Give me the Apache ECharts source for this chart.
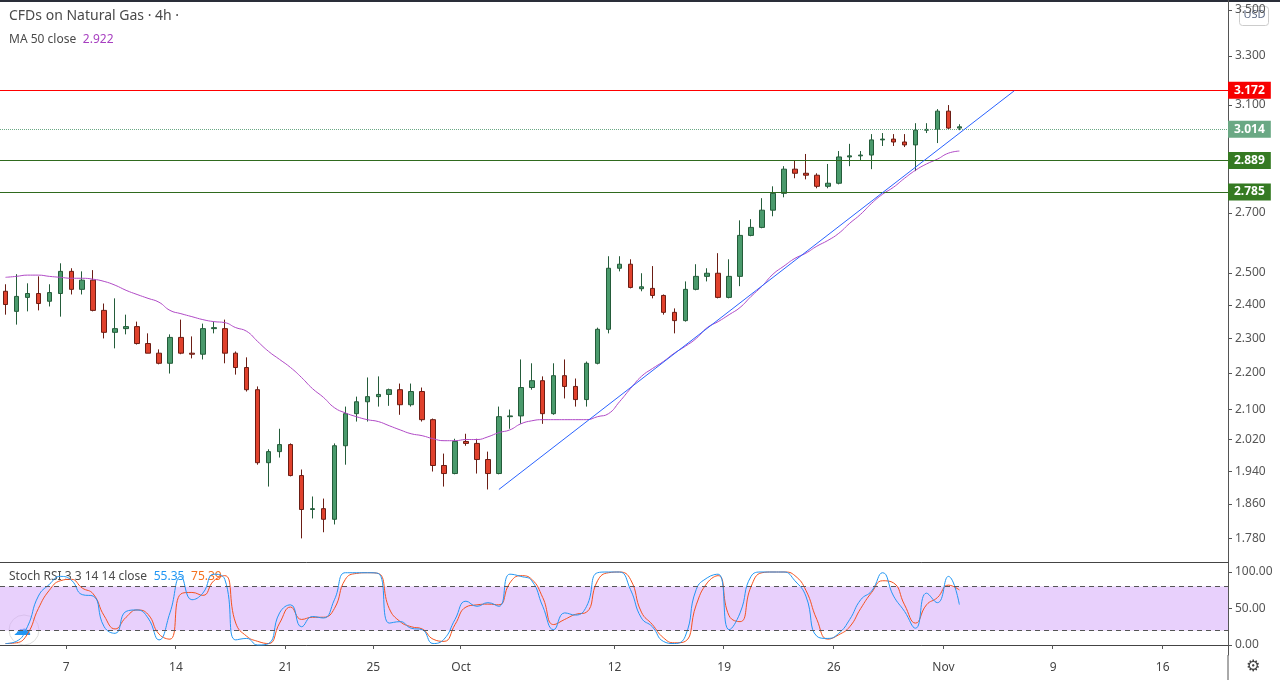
<!DOCTYPE html>
<html>
<head>
<meta charset="utf-8">
<script src="https://cdn.jsdelivr.net/npm/echarts@6/dist/echarts.min.js"></script>
<style>
  html, body { margin: 0; padding: 0; background: #fff; }
  #chart { width: 1280px; height: 680px; }
</style>
</head>
<body>
<div id="chart"></div>
<script>
// 4h natural gas: two slots per trading day
// [open, close, low, high]
var candles = [
  [2.442,2.401,2.370,2.464],[2.380,2.426,2.340,2.496],[2.423,2.435,2.380,2.467],[2.435,2.404,2.383,2.489],
  [2.411,2.438,2.395,2.464],[2.435,2.505,2.364,2.531],[2.505,2.448,2.432,2.515],[2.448,2.477,2.432,2.505],
  [2.477,2.383,2.380,2.509],[2.383,2.317,2.299,2.404],[2.317,2.328,2.270,2.420],[2.328,2.334,2.311,2.370],
  [2.334,2.284,2.281,2.349],[2.284,2.256,2.256,2.314],[2.256,2.227,2.224,2.267],[2.227,2.302,2.198,2.311],
  [2.302,2.256,2.253,2.355],[2.256,2.253,2.241,2.305],[2.253,2.328,2.238,2.343],[2.328,2.331,2.314,2.349],
  [2.328,2.256,2.227,2.355],[2.256,2.215,2.195,2.261],[2.215,2.153,2.148,2.244],[2.153,1.961,1.956,2.162],
  [1.961,1.989,1.902,1.995],[1.989,2.007,1.974,2.048],[2.007,1.929,1.927,2.010],[1.929,1.847,1.780,1.944],
  [1.847,1.849,1.826,1.878],[1.849,1.824,1.794,1.873],[1.824,2.004,1.812,2.010],[2.004,2.088,1.956,2.107],
  [2.088,2.120,2.067,2.134],[2.120,2.134,2.067,2.187],[2.134,2.140,2.107,2.190],[2.140,2.153,2.109,2.156],
  [2.153,2.112,2.085,2.170],[2.112,2.148,2.107,2.170],[2.148,2.072,2.067,2.159],[2.072,1.954,1.939,2.075],
  [1.954,1.934,1.902,1.984],[1.934,2.015,1.932,2.022],[2.015,2.010,2.004,2.035],[2.010,1.969,1.934,2.022],
  [1.969,1.934,1.895,1.989],[1.934,2.080,1.932,2.107],[2.080,2.082,2.048,2.099],[2.082,2.159,2.061,2.238],
  [2.159,2.178,2.153,2.227],[2.178,2.088,2.061,2.190],[2.088,2.192,2.085,2.227],[2.192,2.162,2.129,2.238],
  [2.162,2.126,2.107,2.184],[2.126,2.227,2.107,2.232],[2.227,2.326,2.224,2.331],[2.326,2.515,2.314,2.554],
  [2.515,2.528,2.505,2.554],[2.528,2.454,2.451,2.544],[2.450,2.456,2.442,2.499],[2.451,2.429,2.420,2.522],
  [2.429,2.377,2.370,2.432],[2.377,2.352,2.314,2.389],[2.352,2.448,2.349,2.473],[2.448,2.489,2.445,2.528],
  [2.489,2.499,2.473,2.515],[2.499,2.423,2.420,2.564],[2.423,2.489,2.420,2.544],[2.489,2.623,2.458,2.674],
  [2.623,2.650,2.620,2.678],[2.650,2.709,2.647,2.751],[2.709,2.768,2.688,2.793],[2.768,2.855,2.754,2.866],
  [2.855,2.840,2.822,2.888],[2.840,2.833,2.818,2.911],[2.833,2.793,2.786,2.840],[2.793,2.804,2.786,2.874],
  [2.804,2.900,2.800,2.922],[2.900,2.904,2.866,2.949],[2.904,2.907,2.885,2.922],[2.907,2.964,2.855,2.986],
  [2.964,2.967,2.941,2.990],[2.967,2.956,2.941,2.986],[2.956,2.945,2.937,2.986],[2.945,3.001,2.848,3.028],
  [3.001,3.004,2.990,3.028],[3.004,3.075,2.952,3.083],[3.075,3.009,3.005,3.099],[3.009,3.014,3.001,3.024]
];

var ma50 = [
  2.486,2.489,2.493,2.493,2.489,2.486,2.483,2.483,2.480,2.473,2.461,2.445,2.432,2.420,2.408,2.383,
  2.373,2.364,2.355,2.349,2.346,2.331,2.320,2.290,2.261,2.238,2.215,2.187,2.156,2.132,2.104,2.090,
  2.080,2.072,2.067,2.056,2.045,2.035,2.030,2.022,2.017,2.017,2.020,2.020,2.027,2.038,2.045,2.061,
  2.069,2.072,2.072,2.072,2.072,2.072,2.080,2.088,2.120,2.156,2.190,2.212,2.232,2.256,2.276,2.299,
  2.331,2.349,2.370,2.392,2.426,2.458,2.496,2.522,2.547,2.564,2.587,2.606,2.630,2.664,2.695,2.733,
  2.765,2.790,2.822,2.851,2.874,2.892,2.914,2.922
];

var stochK = [
  2,5,25,67,83,94,89,69,67,25,16,46,48,37,7,44,94,62,71,97,90,7,9,0,2,44,55,25,39,37,62,99,
  99,99,98,30,32,23,21,2,8,35,60,53,58,53,97,94,88,53,21,44,41,53,99,100,100,76,37,25,5,2,
  12,76,92,97,21,44,94,100,100,100,88,67,12,9,16,35,62,74,99,67,46,23,71,58,94,55.35
];
var stochD = [
  2,3,15,50,75,88,90,78,70,40,22,38,48,42,15,8,70,72,68,88,95,30,12,5,2,30,52,35,38,38,50,90,
  98,99,98,50,32,25,22,8,5,28,52,55,56,55,85,95,90,65,28,35,42,45,88,99,100,90,45,28,10,3,
  5,55,85,95,40,32,80,99,100,100,95,75,35,8,14,25,50,72,88,85,55,30,55,65,82,75.39
];

var priceTicks = [1.78, 1.86, 1.94, 2.02, 2.10, 2.20, 2.30, 2.40, 2.50, 2.70, 3.10, 3.30, 3.50];
var dateLabels = { 5: '7', 15: '14', 25: '21', 33: '25', 41: 'Oct', 55: '12', 65: '19', 75: '26', 85: 'Nov', 95: '9', 105: '16' };
var slotCount = 112;

var resistance = 3.172, support1 = 2.889, support2 = 2.785, lastPrice = 3.014;
var trendFrom = [45, 1.895], trendTo = [92, 3.156];

var ln = Math.log;
var slots = [];
for (var i = 0; i < slotCount; i++) slots.push(String(i));

var candleLn = candles.map(function (c) { return c.map(ln); });
var maLn = ma50.map(ln);

var font = 'Noto Sans';
var axisGrey = '#555';

function priceLine(v, color, bg, type) {
  return {
    yAxis: ln(v),
    lineStyle: { color: color, width: 1, type: type || 'solid', opacity: 1 },
    label: {
      show: true, position: 'end', distance: 0,
      formatter: v.toFixed(3),
      backgroundColor: bg, color: '#fff', fontWeight: 'bold',
      fontFamily: font, fontSize: 12, padding: [3, 6, 2, 6]
    }
  };
}

// labels sit on the day boundary, i.e. between two slots
var labelAt = function (idx) { return dateLabels[idx] !== undefined; };
var tickAt = function (idx) { return dateLabels[idx - 1] !== undefined; };

var option = {
  animation: false,
  textStyle: { fontFamily: font },
  grid: [
    { left: 0, top: 0, width: 1228, height: 562 },
    { left: 0, top: 562, width: 1228, height: 93 }
  ],
  xAxis: [
    {
      type: 'category', data: slots, gridIndex: 0, boundaryGap: true,
      axisLine: { show: true, lineStyle: { color: '#444' } },
      axisTick: { show: false }, axisLabel: { show: false }, splitLine: { show: false }
    },
    {
      type: 'category', data: slots, gridIndex: 1, boundaryGap: true,
      axisLine: { show: true, lineStyle: { color: '#444' } },
      axisTick: { show: true, interval: tickAt, length: 4, lineStyle: { color: axisGrey } },
      axisLabel: {
        interval: labelAt, color: '#444', fontSize: 12, margin: 7, padding: [0, 0, 0, 12],
        formatter: function (v) { return dateLabels[v]; }
      },
      splitLine: { show: false }
    }
  ],
  yAxis: [
    {
      type: 'value', gridIndex: 0, position: 'right',
      min: ln(1.727), max: ln(3.545),
      axisLine: { show: true, lineStyle: { color: axisGrey } },
      axisTick: { show: true, length: 4, customValues: priceTicks.map(ln), lineStyle: { color: axisGrey } },
      axisLabel: {
        customValues: priceTicks.map(ln), color: '#555', fontSize: 12, margin: 7,
        formatter: function (v) { return Math.exp(v).toFixed(3); }
      },
      splitLine: { show: false }
    },
    {
      type: 'value', gridIndex: 1, position: 'right', min: -13.7, max: 113.7,
      axisLine: { show: true, lineStyle: { color: axisGrey } },
      axisTick: { show: true, length: 4, customValues: [0, 50, 100], lineStyle: { color: axisGrey } },
      axisLabel: {
        customValues: [0, 50, 100], color: '#555', fontSize: 12, margin: 7,
        formatter: function (v) { return v.toFixed(2); }
      },
      splitLine: { show: false }
    }
  ],
  series: [
    {
      type: 'candlestick', xAxisIndex: 0, yAxisIndex: 0, data: candleLn, barWidth: 5,
      itemStyle: {
        color: '#4a9a6c', color0: '#e0412c',
        borderColor: '#245c3a', borderColor0: '#6b1d14', borderWidth: 1
      },
      markLine: {
        symbol: 'none', silent: true, animation: false,
        data: [
          priceLine(resistance, '#ff0000', '#f70000'),
          priceLine(lastPrice, '#6aa884', '#6aa884', 'dotted'),
          priceLine(support1, '#2f6a1e', '#357a22'),
          priceLine(support2, '#2f6a1e', '#357a22'),
          [
            { coord: [trendFrom[0], ln(trendFrom[1])], lineStyle: { color: '#2962ff', width: 1, type: 'solid' }, label: { show: false } },
            { coord: [trendTo[0], ln(trendTo[1])] }
          ]
        ]
      }
    },
    {
      type: 'line', xAxisIndex: 0, yAxisIndex: 0, data: maLn, showSymbol: false, smooth: true,
      lineStyle: { color: '#b04ac6', width: 1 }
    },
    {
      type: 'line', xAxisIndex: 1, yAxisIndex: 1, data: stochD, showSymbol: false, smooth: true,
      lineStyle: { color: '#f4511e', width: 1 },
      markArea: {
        silent: true,
        itemStyle: { color: 'rgba(214,170,250,0.55)' },
        data: [[{ yAxis: 20 }, { yAxis: 80 }]]
      },
      markLine: {
        symbol: 'none', silent: true, label: { show: false },
        lineStyle: { color: '#555', type: [5, 4], width: 1 },
        data: [{ yAxis: 20 }, { yAxis: 80 }]
      }
    },
    {
      type: 'line', xAxisIndex: 1, yAxisIndex: 1, data: stochK, showSymbol: false, smooth: true,
      lineStyle: { color: '#2196f3', width: 1 }
    }
  ],
  graphic: [
    { type: 'rect', shape: { x: 0, y: 0, width: 1280, height: 2 }, style: { fill: '#2a2e39' } },
    { type: 'line', shape: { x1: 1228, y1: 655, x2: 1228, y2: 680 }, style: { stroke: axisGrey } },
    {
      type: 'text', left: 9, top: 9,
      style: { text: 'CFDs on Natural Gas · 4h ·', fill: '#4a4a4a', font: '14px "Noto Sans"' }
    },
    {
      type: 'text', left: 9, top: 34,
      style: {
        text: '{a|MA 50 close}  {b|2.922}',
        rich: {
          a: { fill: '#4a4a4a', font: '12px "Noto Sans"' },
          b: { fill: '#a73fc0', font: '12px "Noto Sans"' }
        }
      }
    },
    {
      type: 'text', left: 9, top: 571,
      style: {
        text: '{a|Stoch RSI 3 3 14 14 close}  {b|55.35}  {c|75.39}',
        rich: {
          a: { fill: '#4a4a4a', font: '12px "Noto Sans"' },
          b: { fill: '#2196f3', font: '12px "Noto Sans"' },
          c: { fill: '#f4711e', font: '12px "Noto Sans"' }
        }
      }
    },
    {
      type: 'group', left: 1239, top: 6,
      children: [
        { type: 'rect', shape: { x: 0, y: 0, width: 29, height: 19, r: 3 }, style: { fill: '#fff', stroke: '#ccc' } },
        { type: 'text', x: 4, y: 3, style: { text: 'USD', fill: '#5d6a86', font: '11px "Noto Sans"' } }
      ]
    },
    {
      type: 'circle', shape: { cx: 24, cy: 630, r: 15 },
      style: { fill: '#fff', stroke: '#ddd' }
    },
    {
      type: 'text', left: 13, top: 621,
      style: { text: '☁', fill: '#2196f3', font: '18px "DejaVu Sans"' }
    },
    {
      type: 'text', left: 1246, top: 659,
      style: { text: '⚙', fill: '#444', font: '16px "DejaVu Sans"' }
    }
  ]
};

var chart = echarts.init(document.getElementById('chart'));
chart.setOption(option);
</script>
</body>
</html>
